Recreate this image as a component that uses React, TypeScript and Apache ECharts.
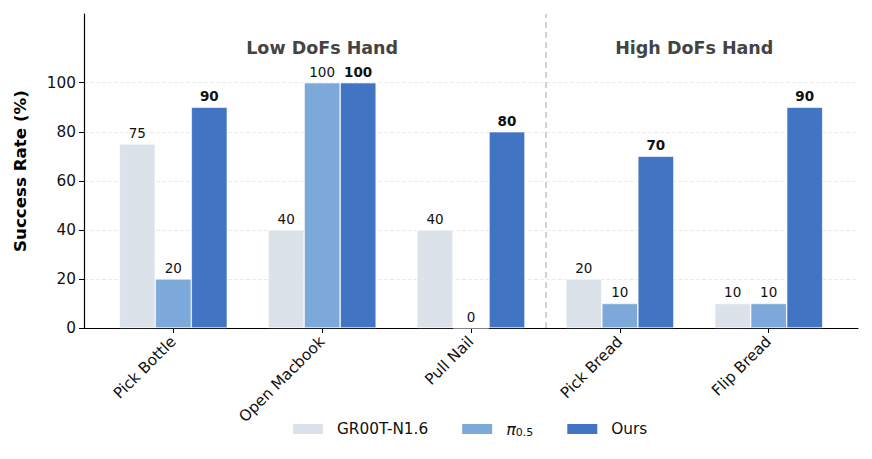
import React, { useEffect, useRef } from 'react';
import * as echarts from 'echarts';

const categories = ['Pick Bottle', 'Open Macbook', 'Pull Nail', 'Pick Bread', 'Flip Bread'];
const grootValues = [75, 40, 40, 20, 10];
const piValues = [20, 100, 0, 10, 10];
const oursValues = [90, 100, 80, 70, 90];
const yTicks = [0, 20, 40, 60, 80, 100];
const groupNames = ['Low DoFs Hand', 'High DoFs Hand'];
const groupCenters = [1, 3.5];
const groupDivider = 2.5;

const FONT = 'DejaVu Sans';

const toPoints = (vals: number[]) => vals.map((v, i) => [i, v]);

const App: React.FC = () => {
  const chartRef = useRef<HTMLDivElement>(null);

  useEffect(() => {
    document.body.style.margin = '0';
    if (!chartRef.current) return;
    const chart = echarts.init(chartRef.current, undefined, { renderer: 'svg' });

    const barLabel = (bold: boolean) => ({
      show: true,
      position: 'top',
      distance: 4,
      fontFamily: FONT,
      fontSize: 13.5,
      fontWeight: bold ? 'bold' : 'normal',
      color: '#111',
      formatter: (p: any) => String(p.value[1])
    });

    const option: echarts.EChartsOption = {
      animation: false,
      backgroundColor: '#fff',
      textStyle: { fontFamily: FONT },
      grid: { left: 84, right: 14, top: 14, bottom: 131 },
      legend: {
        left: 291,
        top: 421,
        padding: 0,
        itemWidth: 32,
        itemHeight: 12,
        itemGap: 32,
        icon: 'rect',
        data: ['GR00T-N1.6', 'pi', 'Ours'],
        formatter: (name: string) => (name === 'pi' ? '{pi|π}{sub|0.5}' : name),
        textStyle: {
          fontFamily: FONT,
          fontSize: 15.3,
          color: '#111',
          padding: [0, 0, 0, 8],
          rich: {
            pi: { fontFamily: FONT, fontSize: 16, fontStyle: 'italic', color: '#111' },
            sub: { fontFamily: FONT, fontSize: 11, color: '#111', padding: [7, 0, 0, 0] }
          }
        }
      },
      xAxis: {
        type: 'value',
        min: -0.6,
        max: 4.6,
        axisLine: { show: true, onZero: false, lineStyle: { color: '#000', width: 1.2 } },
        axisTick: { show: true, customValues: [0, 1, 2, 3, 4], length: 5, lineStyle: { color: '#000' } },
        axisLabel: {
          customValues: [0, 1, 2, 3, 4],
          rotate: 45,
          fontFamily: FONT,
          fontSize: 15.3,
          color: '#111',
          margin: 11,
          formatter: (v: number) => categories[Math.round(v)] ?? ''
        },
        splitLine: { show: false }
      },
      yAxis: {
        type: 'value',
        min: 0,
        max: 128,
        name: 'Success Rate (%)',
        nameLocation: 'middle',
        nameGap: 56,
        nameTextStyle: { fontFamily: FONT, fontSize: 16.7, fontWeight: 'bold', color: '#000' },
        axisLine: { show: true, onZero: false, lineStyle: { color: '#000', width: 1.2 } },
        axisTick: { show: true, customValues: yTicks, length: 5, lineStyle: { color: '#000' } },
        axisLabel: { customValues: yTicks, fontFamily: FONT, fontSize: 15.3, color: '#111', margin: 8 },
        splitLine: { show: true, lineStyle: { color: '#e4e4e4', type: [4, 2], width: 0.8 } }
      },
      series: [
        {
          name: 'GR00T-N1.6',
          type: 'bar',
          barWidth: 36,
          barGap: '0%',
          data: toPoints(grootValues),
          itemStyle: { color: '#dbe2ea', borderColor: '#fff', borderWidth: 0.6 },
          label: barLabel(false) as any
        },
        {
          name: 'pi',
          type: 'bar',
          barWidth: 36,
          barGap: '0%',
          data: toPoints(piValues),
          itemStyle: { color: '#7ca8da', borderColor: '#fff', borderWidth: 0.6 },
          label: barLabel(false) as any,
          markLine: {
            silent: true,
            symbol: 'none',
            label: { show: false },
            lineStyle: { color: '#c4c4c4', type: [6, 4], width: 1.5 },
            data: [{ xAxis: groupDivider }]
          },
          markPoint: {
            symbolSize: 0,
            data: groupNames.map((n, i) => ({
              coord: [groupCenters[i], 114.3],
              value: n,
              label: {
                show: true,
                position: 'inside',
                formatter: n,
                fontFamily: FONT,
                fontSize: 17.5,
                fontWeight: 'bold',
                color: '#444'
              }
            }))
          }
        },
        {
          name: 'Ours',
          type: 'bar',
          barWidth: 36,
          barGap: '0%',
          data: toPoints(oursValues),
          itemStyle: { color: '#4174c3', borderColor: '#fff', borderWidth: 0.6 },
          label: barLabel(true) as any
        }
      ]
    };

    chart.setOption(option);
    return () => chart.dispose();
  }, []);

  return <div ref={chartRef} style={{ width: 872, height: 459 }} />;
};

export default App;
